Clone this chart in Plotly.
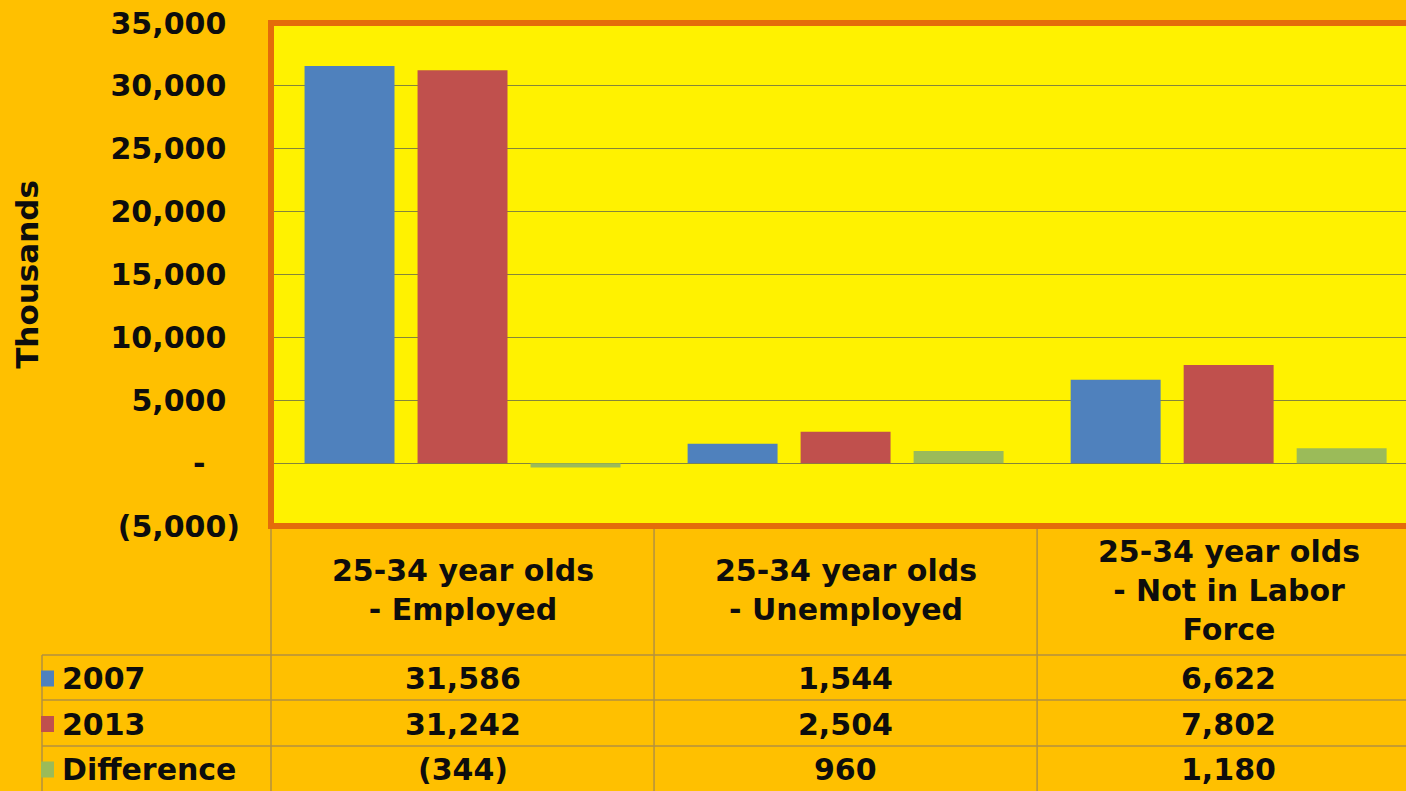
import textwrap
import plotly.graph_objects as go

# ---- data (thousands of people) ----
categories = [
    "25-34 year olds - Employed",
    "25-34 year olds - Unemployed",
    "25-34 year olds - Not in Labor Force",
]
series_names = ["2007", "2013", "Difference"]
values_2007 = [31586, 1544, 6622]
values_2013 = [31242, 2504, 7802]
values_diff = [-344, 960, 1180]
series_values = [values_2007, values_2013, values_diff]

tick_values = [-5000, 0, 5000, 10000, 15000, 20000, 25000, 30000, 35000]
tick_labels = ["(5,000)", "-", "5,000", "10,000", "15,000", "20,000",
               "25,000", "30,000", "35,000"]

# ---- styling ----
colors = ["#4F81BD", "#C0504D", "#9BBB59"]
ORANGE_BG = "#FFC000"
YELLOW_BG = "#FFF200"
BORDER = "#E46C0A"
GRID = "#85853A"
TABLE_LINE = "#B3913F"
TEXT = "#0D0D0D"
FONT = "DejaVu Sans"

W, H = 1406, 791
L_MARGIN, T_MARGIN = 271, 23
PLOT_BOTTOM = 526          # pixel row of the -5,000 baseline
X_RANGE = [-0.5, 2.463]

def fmt(v):
    return f"{v:,}" if v >= 0 else f"({-v:,})"

def px_x(p):
    return (p - L_MARGIN) / (W - L_MARGIN)

def px_y(p):
    return (H - p) / (H - T_MARGIN)

def cat_x(v):
    return (v - X_RANGE[0]) / (X_RANGE[1] - X_RANGE[0])

# accounting-style labels: numbers padded by an invisible ")"
pad = "<span style='color:rgba(0,0,0,0)'>{}</span>"
tick_text = []
for t in tick_labels:
    if t.startswith("("):
        tick_text.append(t)
    elif t == "-":
        tick_text.append(t + pad.format("0)"))
    else:
        tick_text.append(t + pad.format(")"))

fig = go.Figure()
for name, vals, col in zip(series_names, series_values, colors):
    fig.add_trace(go.Bar(
        x=categories, y=vals, name=name,
        marker=dict(color=col, line=dict(width=0)),
        hoverinfo="x+y+name",
    ))

y_dom0 = px_y(PLOT_BOTTOM)

fig.update_layout(
    width=W, height=H,
    margin=dict(l=L_MARGIN, r=0, t=T_MARGIN, b=0, autoexpand=False),
    paper_bgcolor=ORANGE_BG,
    plot_bgcolor=YELLOW_BG,
    barmode="group",
    bargap=0.115,
    bargroupgap=0.204,
    showlegend=False,
    font=dict(family=FONT, color=TEXT),
    xaxis=dict(
        range=X_RANGE, showticklabels=False, showgrid=False,
        zeroline=False, showline=False, ticks="",
    ),
    yaxis=dict(
        domain=[y_dom0, 1],
        range=[-5000, 35000],
        tickmode="array", tickvals=tick_values, ticktext=tick_text,
        tickfont=dict(family=FONT, size=30, color=TEXT, weight="bold"),
        ticks="", ticklabelstandoff=30,
        showgrid=True, gridcolor=GRID, gridwidth=1,
        zeroline=False, showline=False,
        title=dict(text="Thousands", standoff=62,
                   font=dict(family=FONT, size=31, color=TEXT, weight="bold")),
    ),
)

shapes = []
# orange frame around the plotting area (open to the right, which runs off the page)
shapes.append(dict(
    type="rect", xref="paper", yref="paper",
    x0=0, x1=1.03, y0=y_dom0, y1=1,
    line=dict(color=BORDER, width=6), fillcolor="rgba(0,0,0,0)", layer="above",
))

# data table grid below the chart
row_edges = [PLOT_BOTTOM, 655, 700, 746, H]
legend_left = 42
line_style = dict(color=TABLE_LINE, width=1.5)
for y in row_edges[1:4]:
    shapes.append(dict(type="line", xref="paper", yref="paper",
                       x0=px_x(legend_left), x1=1.02, y0=px_y(y), y1=px_y(y),
                       line=line_style))
for k in range(len(categories)):
    xe = cat_x(k - 0.5)
    shapes.append(dict(type="line", xref="paper", yref="paper",
                       x0=xe, x1=xe, y0=px_y(row_edges[0] + 3), y1=0,
                       line=line_style))
shapes.append(dict(type="line", xref="paper", yref="paper",
                   x0=px_x(legend_left), x1=px_x(legend_left),
                   y0=px_y(row_edges[1]), y1=0, line=line_style))

annotations = []
table_font = dict(family=FONT, size=30, color=TEXT, weight="bold")

# column headers
header_center = 590
for k, cat in enumerate(categories):
    annotations.append(dict(
        xref="paper", yref="paper", x=cat_x(k), y=px_y(header_center),
        text="<br>".join(textwrap.wrap(cat, 15)), showarrow=False,
        xanchor="center", yanchor="middle", align="center", font=table_font,
    ))

# series rows: legend key, name and values
for r, (name, vals, col) in enumerate(zip(series_names, series_values, colors)):
    top, bot = row_edges[r + 1], row_edges[r + 2]
    yc = (top + bot) / 2 + 1
    shapes.append(dict(type="rect", xref="paper", yref="paper",
                       x0=px_x(41), x1=px_x(54),
                       y0=px_y(yc + 8), y1=px_y(yc - 8),
                       line=dict(width=0), fillcolor=col))
    annotations.append(dict(
        xref="paper", yref="paper", x=px_x(60), y=px_y(yc),
        text=name, showarrow=False, xanchor="left", yanchor="middle",
        font=table_font,
    ))
    for k, v in enumerate(vals):
        annotations.append(dict(
            xref="paper", yref="paper", x=cat_x(k), y=px_y(yc),
            text=fmt(v), showarrow=False, xanchor="center", yanchor="middle",
            font=table_font,
        ))

fig.update_layout(shapes=shapes, annotations=annotations)

fig.write_html("out.html")
